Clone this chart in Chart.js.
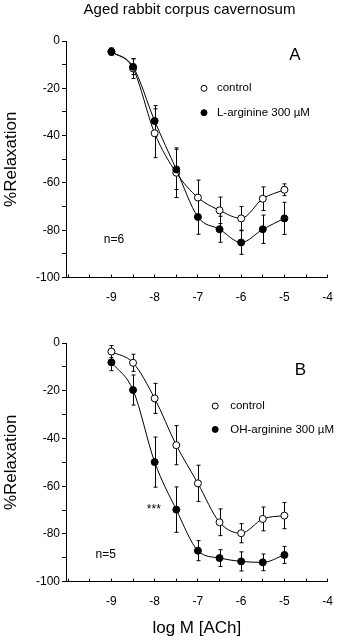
<!DOCTYPE html>
<html><head><meta charset="utf-8">
<script src="https://cdn.jsdelivr.net/npm/chart.js@4/dist/chart.umd.min.js"></script>
<style>
html,body{margin:0;padding:0;background:#fff;overflow:hidden;}
.p{position:absolute;left:0;width:349px;height:320px;}
</style></head><body>
<div class="p" style="top:0"><canvas id="ca" width="349" height="320"></canvas></div>
<div class="p" style="top:320px"><canvas id="cb" width="349" height="320"></canvas></div>
<script>
// ---- data ----
const logConc = [-9, -8.5, -8, -7.5, -7, -6.5, -6, -5.5, -5];

const aControl    = [-4.5, -11.6, -39.0, -55.7, -66.2, -71.6, -75.0, -66.7, -62.9];
const aControlSE  = [1.5, 4.2, 10.3, 10.5, 7.4, 5.6, 5.0, 5.0, 2.5];
const aLArg       = [-4.5, -10.9, -33.8, -54.3, -74.4, -79.6, -85.2, -79.6, -75.0];
const aLArgSE     = [1.5, 3.3, 6.5, 8.5, 7.3, 5.5, 5.0, 6.0, 6.8];

const bControl    = [-3.6, -8.3, -23.2, -42.8, -58.8, -75.1, -79.7, -73.7, -72.3];
const bControlSE  = [2.5, 3.6, 6.3, 8.2, 7.6, 5.6, 4.0, 5.0, 5.5];
const bOHArg      = [-8.1, -19.7, -49.9, -69.8, -87.0, -90.1, -91.5, -91.9, -88.8];
const bOHArgSE    = [3.5, 6.3, 10.5, 9.5, 4.2, 3.5, 4.0, 3.5, 3.6];

const xTickLabels = [-9, -8, -7, -6, -5, -4];
const yTickLabels = [0, -20, -40, -60, -80, -100];

const labelControl = 'control';
const labelA = 'L-arginine 300 µM';
const labelB = 'OH-arginine 300 µM';

// ---- rendering ----
Chart.defaults.font.family = "'Liberation Sans', Arial, sans-serif";
Chart.defaults.color = '#000';

function pts(ys) { return logConc.map((x, i) => ({x: x, y: ys[i]})); }

const errorBars = {
  id: 'errorBars',
  beforeDatasetsDraw(chart) {
    const {ctx, scales: {x, y}} = chart;
    ctx.save();
    ctx.strokeStyle = '#000';
    ctx.lineWidth = 1;
    chart.data.datasets.forEach(ds => {
      ds.data.forEach((p, i) => {
        const se = ds.se[i];
        const px = Math.round(x.getPixelForValue(p.x)) + 0.5;
        const y1 = y.getPixelForValue(p.y + se);
        const y2 = y.getPixelForValue(p.y - se);
        ctx.beginPath();
        ctx.moveTo(px, y1); ctx.lineTo(px, y2);
        ctx.moveTo(px - 2, y1); ctx.lineTo(px + 2, y1);
        ctx.moveTo(px - 2, y2); ctx.lineTo(px + 2, y2);
        ctx.stroke();
      });
    });
    ctx.restore();
  }
};

const texts = {
  id: 'texts',
  afterDraw(chart, args, opts) {
    const {ctx, scales: {x, y}} = chart;
    ctx.save();
    ctx.fillStyle = '#000';
    ctx.textBaseline = 'middle';
    (opts.items || []).forEach(t => {
      ctx.font = t.font;
      ctx.textAlign = t.align || 'center';
      const px = t.px !== undefined ? t.px : x.getPixelForValue(t.x);
      const py = t.py !== undefined ? t.py : y.getPixelForValue(t.y);
      ctx.fillText(t.text, px, py);
    });
    (opts.legend || []).forEach(l => {
      const px = x.getPixelForValue(l.x);
      const py = y.getPixelForValue(l.y);
      ctx.beginPath();
      ctx.arc(px, py, 3, 0, Math.PI * 2);
      ctx.fillStyle = l.fill;
      ctx.fill();
      ctx.lineWidth = 1;
      ctx.strokeStyle = '#000';
      ctx.stroke();
      ctx.fillStyle = '#000';
      ctx.font = "11.5px 'Liberation Sans', Arial, sans-serif";
      ctx.textAlign = 'left';
      ctx.fillText(l.label, px + l.gap, py);
    });
    ctx.restore();
  }
};

function makeChart(id, s1, s1se, s2, s2se, lab2, padTop, xHeight, showXTitle, items, legend) {
  return new Chart(document.getElementById(id), {
    type: 'line',
    data: {
      datasets: [
        { label: lab2, data: pts(s2), se: s2se, borderColor: '#000', borderWidth: 1,
          pointRadius: 3.5, pointBackgroundColor: '#000', pointBorderColor: '#000', pointBorderWidth: 1,
          cubicInterpolationMode: 'monotone', fill: false },
        { label: labelControl, data: pts(s1), se: s1se, borderColor: '#000', borderWidth: 1,
          pointRadius: 3.5, pointBackgroundColor: '#fff', pointBorderColor: '#000', pointBorderWidth: 1,
          cubicInterpolationMode: 'monotone', fill: false }
      ]
    },
    options: {
      responsive: false,
      animation: false,
      layout: { padding: { top: padTop, right: 9, left: 0, bottom: 0 } },
      plugins: {
        legend: { display: false },
        tooltip: { enabled: false },
        texts: { items: items, legend: legend }
      },
      scales: {
        x: {
          type: 'linear', min: -10.05, max: -4,
          ticks: {
            stepSize: 0.5, includeBounds: false, autoSkip: false, maxRotation: 0,
            padding: 16, font: { size: 12 }, color: '#000',
            callback: v => xTickLabels.includes(v) ? String(v) : ''
          },
          grid: { drawOnChartArea: false, tickLength: -3, color: '#000', tickColor: '#000' },
          border: { color: '#000', width: 1 },
          title: { display: showXTitle, text: 'log M [ACh]', color: '#000',
                   font: { size: 17, lineHeight: 1.2 }, padding: { top: 0, bottom: 1 } },
          afterFit: s => { s.height = xHeight; }
        },
        y: {
          min: -100, max: 0,
          ticks: {
            stepSize: 10, padding: 2, font: { size: 12 }, color: '#000',
            callback: v => yTickLabels.includes(v) ? String(v) : ''
          },
          grid: { drawOnChartArea: false, tickLength: 4, color: '#000', tickColor: '#000' },
          border: { color: '#000', width: 1 },
          title: { display: true, text: '%Relaxation', color: '#000',
                   font: { size: 17, lineHeight: 1.2 }, padding: { top: 1, bottom: 0 } },
          afterFit: s => { s.width = 66; }
        }
      }
    },
    plugins: [errorBars, texts]
  });
}

makeChart('ca', aControl, aControlSE, aLArg, aLArgSE, labelA, 41, 42.5, false,
  [
    { text: 'Aged rabbit corpus cavernosum', px: 189.5, py: 10, font: "15px 'Liberation Sans', Arial, sans-serif" },
    { text: 'A', x: -4.76, y: -5.9, font: "17px 'Liberation Sans', Arial, sans-serif" },
    { text: 'n=6', x: -8.94, y: -84.1, font: "12px 'Liberation Sans', Arial, sans-serif" }
  ],
  [
    { x: -6.86, y: -20.0, fill: '#fff', label: labelControl, gap: 13 },
    { x: -6.86, y: -30.3, fill: '#000', label: labelA, gap: 13 }
  ]);

makeChart('cb', bControl, bControlSE, bOHArg, bOHArgSE, labelB, 23, 58.3, true,
  [
    { text: 'B', x: -4.63, y: -11.3, font: "17px 'Liberation Sans', Arial, sans-serif" },
    { text: 'n=5', x: -9.13, y: -88.5, font: "12px 'Liberation Sans', Arial, sans-serif" },
    { text: '***', x: -8.02, y: -70, font: "12px 'Liberation Sans', Arial, sans-serif" }
  ],
  [
    { x: -6.6, y: -26.4, fill: '#fff', label: labelControl, gap: 15 },
    { x: -6.6, y: -36.2, fill: '#000', label: labelB, gap: 15 }
  ]);
</script>
</body></html>
